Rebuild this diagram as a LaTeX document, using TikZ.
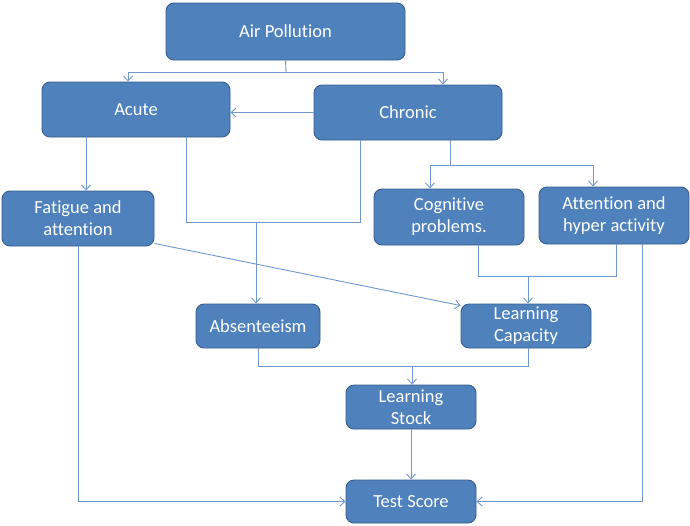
\documentclass[tikz,border=0pt]{standalone}
\usepackage{fontspec}
\setmainfont[Ligatures=NoCommon]{Carlito}
\usetikzlibrary{arrows.meta,calc}
\definecolor{boxfill}{HTML}{4F81BD}
\definecolor{boxline}{HTML}{385D8A}
\definecolor{conncol}{HTML}{7098CF}
\begin{document}
\begin{tikzpicture}[x=1pt,y=-1pt,
  box/.style={draw=boxline,line width=0.9pt,fill=boxfill,rounded corners=8pt,
    text=white,font=\fontsize{18.5}{22}\selectfont,align=center,inner sep=0pt},
  conn/.style={draw=conncol,line width=0.9pt},
  arr/.style={conn,-{Straight Barb[length=5pt,width=9pt]}}]
\useasboundingbox[fill=white] (0,0) rectangle (690,525);
\node[box,minimum width=239pt,minimum height=57pt] (ap) at (285.5,31.5) {Air Pollution};
\node[box,minimum width=188pt,minimum height=55pt] (acute) at (136,109.5) {Acute};
\node[box,minimum width=188pt,minimum height=55pt] (chronic) at (408,112.5) {Chronic};
\node[box,minimum width=152pt,minimum height=55pt] (fat) at (78,218.5) {Fatigue and\\attention};
\node[box,minimum width=150pt,minimum height=56pt] (cog) at (449,217) {Cognitive\\problems.};
\node[box,minimum width=150pt,minimum height=57pt] (att) at (614,215.5) {Attention and\\hyper activity};
\node[box,minimum width=124pt,minimum height=44pt] (abs) at (258,326) {Absenteeism};
\node[box,minimum width=130pt,minimum height=44pt] (lc) at (526,326) {Learning\\Capacity};
\node[box,minimum width=130pt,minimum height=44pt] (ls) at (411,407) {Learning\\Stock};
\node[box,minimum width=130pt,minimum height=43pt] (ts) at (411,501.5) {Test Score};
% Air pollution split
\coordinate (j1) at (286,72);
\draw[conn] (ap.south) -- (j1);
\draw[arr] (j1) -| ([xshift=-8pt]acute.north);
\draw[arr] (j1) -| ([xshift=35pt]chronic.north);
% chronic -> acute
\draw[arr] (chronic.west) -- (chronic.west -| acute.east);
% acute -> fatigue
\coordinate (a1) at ([xshift=-50pt]acute.south);
\draw[arr] (a1) -- (a1 |- fat.north);
% acute, chronic -> absenteeism
\coordinate (j2) at (256,222);
\draw[conn] ([xshift=50pt]acute.south) |- (j2);
\draw[conn] ([xshift=-48pt]chronic.south) |- (j2);
\draw[arr] (j2) -- (j2 |- abs.north);
% chronic -> cognitive, attention
\coordinate (j3) at (450,165);
\draw[conn] ([xshift=42pt]chronic.south) -- (j3);
\draw[arr] (j3) -| ([xshift=-19pt]cog.north);
\draw[arr] (j3) -| ([xshift=-21pt]att.north);
% fatigue -> learning capacity
\draw[arr] ([yshift=3pt]fat.south east) -- ([yshift=-2pt]lc.north west);
% cognitive, attention -> learning capacity
\coordinate (j4) at (528,276);
\draw[conn] ([xshift=29pt]cog.south) |- (j4);
\draw[conn] ([xshift=2pt]att.south) |- (j4);
\draw[arr] (j4) -- (j4 |- lc.north);
% absenteeism, learning capacity -> learning stock
\coordinate (j5) at (412,366);
\draw[conn] (abs.south) |- (j5);
\draw[conn] ([xshift=2pt]lc.south) |- (j5);
\draw[arr] (j5) -- (j5 |- ls.north);
% learning stock -> test score
\draw[arr] (ls.south) -- (ts.north);
% fatigue -> test score
\draw[arr] (fat.south) |- (ts.west);
% attention -> test score
\draw[arr] ([xshift=28pt]att.south) |- (ts.east);
\end{tikzpicture}
\end{document}
